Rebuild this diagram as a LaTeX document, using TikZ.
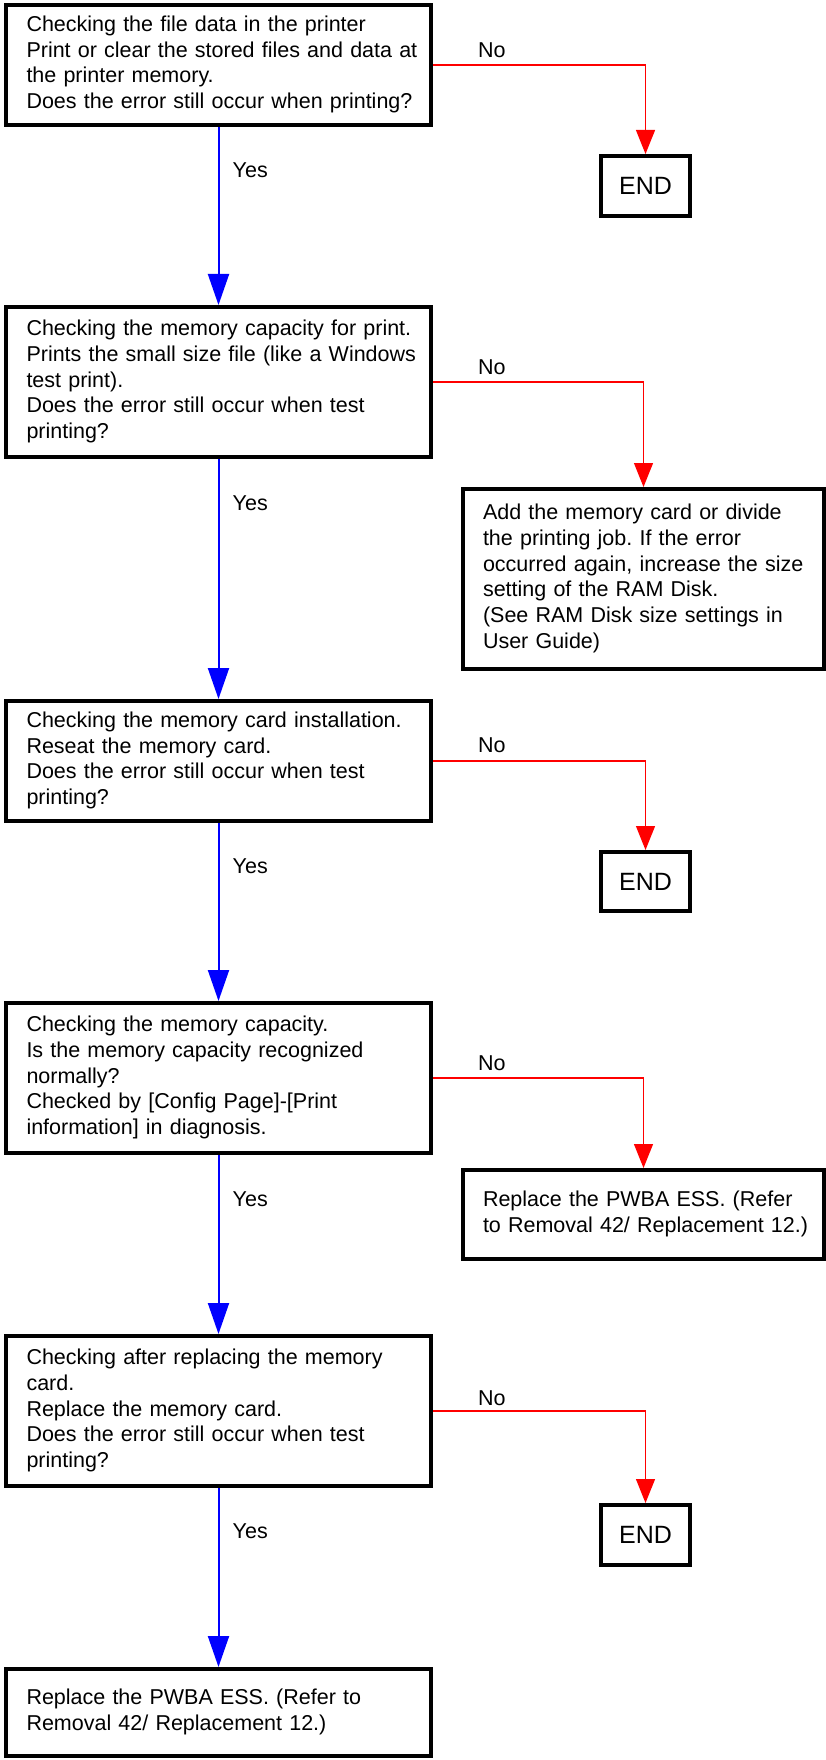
\documentclass[tikz,border=0pt]{standalone}
\usepackage{fontspec}
\setmainfont{Liberation Sans}
\usetikzlibrary{arrows.meta,calc}
\frenchspacing
\newcommand\boxtext[1]{\noindent\begin{tabular}{@{}l@{}}#1\end{tabular}}
\begin{document}
\begin{tikzpicture}[x=1pt,y=-1pt,
  txtfont/.style={font=\frenchspacing\fontsize{21.5}{25.7}\selectfont},
  lbox/.style={draw, line width=4pt, rectangle, txtfont, align=left,
    text width=384pt, inner xsep=20.5pt, inner ysep=0pt, minimum width=425pt},
  rbox/.style={draw, line width=4pt, rectangle, txtfont, align=left,
    text width=321pt, inner xsep=20pt, inner ysep=0pt, minimum width=361pt},
  endbox/.style={draw, line width=4pt, rectangle, font=\fontsize{25}{30}\selectfont,
    minimum width=89pt, minimum height=60pt, inner sep=0pt},
  lab/.style={txtfont, inner sep=0pt, anchor=west},
  yesline/.style={draw=blue, line width=2pt, -{Triangle[length=31pt,width=21pt,fill=blue]}},
  noline/.style={draw=red, line width=1.2pt, -{Triangle[length=24pt,width=19pt,fill=red]}}
]
\useasboundingbox (0,0) rectangle (825,1760);

% main column
\node[lbox, minimum height=120pt] (b1) at (218.5,65) {\boxtext{Checking the file data in the printer\\
Print or clear the stored files and data at\\
the printer memory.\\
Does the error still occur when printing?}};

\node[lbox, minimum height=150pt] (b2) at (218.5,382) {\boxtext{Checking the memory capacity for print.\\
Prints the small size file (like a Windows\\
test print).\\
Does the error still occur when test\\
printing?}};

\node[lbox, minimum height=120pt] (b3) at (218.5,761) {\boxtext{Checking the memory card installation.\\
Reseat the memory card.\\
Does the error still occur when test\\
printing?}};

\node[lbox, minimum height=150pt] (b4) at (218.5,1078) {\boxtext{Checking the memory capacity.\\
Is the memory capacity recognized\\
normally?\\
Checked by [Config Page]-[Print\\
information] in diagnosis.}};

\node[lbox, minimum height=150pt] (b5) at (218.5,1411) {\boxtext{Checking after replacing the memory\\
card.\\
Replace the memory card.\\
Does the error still occur when test\\
printing?}};

\node[lbox, minimum height=87pt] (b6) at (218.5,1712.5) {\boxtext{Replace the PWBA ESS. (Refer to\\
Removal 42/ Replacement 12.)}};

% right column
\node[endbox] (e1) at (645.5,186) {END};

\node[rbox, minimum height=180pt] (r2) at (643.5,579) {\boxtext{Add the memory card or divide\\
the printing job. If the error\\
occurred again, increase the size\\
setting of the RAM Disk.\\
(See RAM Disk size settings in\\
User Guide)}};

\node[endbox, minimum height=59pt] (e3) at (645.5,881.5) {END};

\node[rbox, minimum height=89pt] (r4) at (643.5,1214.5) {\boxtext{Replace the PWBA ESS. (Refer\\
to Removal 42/ Replacement 12.)}};

\node[endbox] (e5) at (645.5,1535) {END};

% Yes connectors
\draw[yesline] (b1.south) -- (b2.north);
\draw[yesline] (b2.south) -- (b3.north);
\draw[yesline] (b3.south) -- (b4.north);
\draw[yesline] (b4.south) -- (b5.north);
\draw[yesline] (b5.south) -- (b6.north);

\node[lab] (y1) at ($(b1.south)+(14,43)$) {Yes};
\node[lab] (y2) at ($(b2.south)+(14,44)$) {Yes};
\node[lab] (y3) at ($(b3.south)+(14,43)$) {Yes};
\node[lab] (y4) at ($(b4.south)+(14,44)$) {Yes};
\node[lab] (y5) at ($(b5.south)+(14,43)$) {Yes};

% No connectors
\draw[noline] (b1.east) -| (e1.north);
\draw[noline] (b2.east) -| (r2.north);
\draw[noline] (b3.east) -| (e3.north);
\draw[noline] (b4.east) -| (r4.north);
\draw[noline] (b5.east) -| (e5.north);

\node[lab] (n1) at ($(b1.east)+(45,-15)$) {No};
\node[lab] (n2) at ($(b2.east)+(45,-15)$) {No};
\node[lab] (n3) at ($(b3.east)+(45,-16)$) {No};
\node[lab] (n4) at ($(b4.east)+(45,-15)$) {No};
\node[lab] (n5) at ($(b5.east)+(45,-13)$) {No};
\end{tikzpicture}
\end{document}
